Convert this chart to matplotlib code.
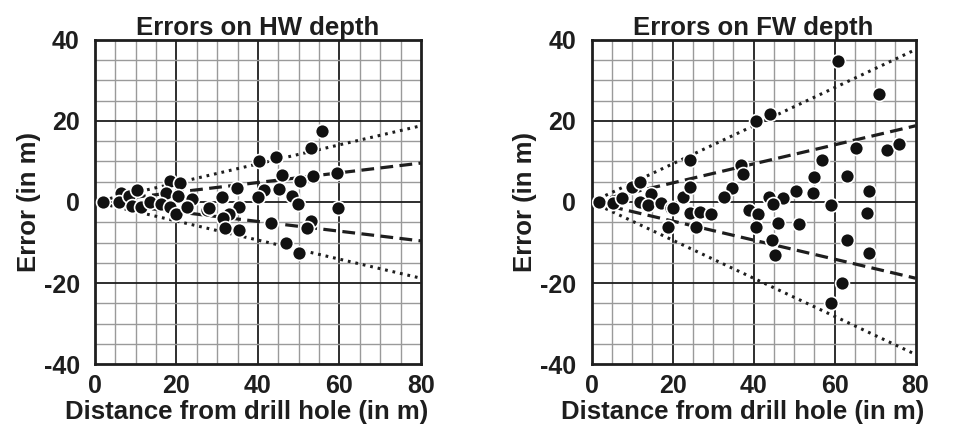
import numpy as np
import matplotlib
matplotlib.use("Agg")
import matplotlib.pyplot as plt

plt.rcParams['font.family'] = ['Liberation Sans', 'DejaVu Sans']
plt.rcParams['font.weight'] = 'bold'
plt.rcParams['axes.unicode_minus'] = False

# HW depth errors (distance, error)
hw_x = [1.9, 6.3, 6.0, 8.4, 10.2, 9.0, 11.4, 13.5, 18.4, 17.4, 20.8, 20.4, 23.7,
        16.3, 18.4, 20.0, 22.5, 27.4, 55.8, 52.9, 44.4, 40.3, 45.8, 53.4, 59.4,
        50.4, 34.9, 41.4, 45.1, 31.2, 40.1, 48.4, 49.9, 28.0, 35.4, 59.6, 32.8,
        31.4, 53.1, 52.0, 43.3, 31.9, 35.4, 47.0, 50.0]
hw_y = [0.0, 2.1, 0.0, 1.5, 3.0, -0.9, -1.3, 0.0, 5.3, 2.1, 4.6, 1.5, 0.7,
        -0.5, -1.2, -3.0, -1.3, -2.0, 17.5, 13.4, 11.0, 10.0, 6.7, 6.4, 7.1,
        5.3, 3.5, 3.0, 3.2, 1.2, 1.2, 1.5, -0.5, -1.4, -1.2, -1.4, -3.0,
        -4.0, -4.6, -6.3, -5.3, -6.5, -6.9, -10.0, -12.5]

# FW depth errors (distance, error)
fw_x = [1.8, 5.4, 7.6, 10.0, 12.0, 14.7, 11.9, 13.9, 17.2, 19.7, 20.1, 22.5, 24.2,
        24.2, 18.8, 24.2, 25.8, 26.7, 29.5, 40.7, 44.1, 37.0, 37.4, 34.7, 32.8,
        43.7, 47.2, 50.4, 44.9, 38.8, 41.0, 40.7, 46.0, 51.2, 44.6, 45.4,
        60.8, 70.9, 65.4, 72.9, 75.8, 57.0, 54.8, 63.0, 54.6, 68.4, 59.2,
        68.0, 63.0, 68.6, 61.9, 59.2]
fw_y = [0.0, -0.2, 1.1, 3.6, 5.0, 2.0, 0.0, -0.7, -0.2, -1.6, -1.6, 1.3, 3.8,
        10.4, -6.2, -2.8, -6.2, -2.4, -3.0, 20.0, 21.7, 9.1, 6.9, 3.4, 1.3,
        1.3, 0.9, 2.8, -0.5, -2.0, -3.0, -6.1, -5.1, -5.5, -9.4, -13.1,
        34.9, 26.7, 13.3, 12.8, 14.2, 10.4, 6.1, 6.5, 2.3, 2.8, -0.7,
        -2.6, -9.4, -12.7, -20.1, -25.0]

# envelope slopes: dashed, dotted
hw_slopes = [0.12, 0.235]
fw_slopes = [0.235, 0.47]

titles = ["Errors on HW depth", "Errors on FW depth"]

fig = plt.figure(figsize=(9.73, 4.33), dpi=100)
ax1 = fig.add_axes([0.0976, 0.159, 0.335, 0.749])
ax2 = fig.add_axes([0.608, 0.159, 0.333, 0.749])

ink = '#1e1e1e'

for ax, xs, ys, slopes, title in [(ax1, hw_x, hw_y, hw_slopes, titles[0]),
                                   (ax2, fw_x, fw_y, fw_slopes, titles[1])]:
    # grid: minor every 5, major every 20
    for v in np.arange(5, 80, 5):
        c, lw = (ink, 1.3) if v % 20 == 0 else ('#9a9a9a', 1.0)
        ax.axvline(v, color=c, lw=lw, zorder=0)
    for v in np.arange(-35, 40, 5):
        c, lw = (ink, 1.3) if v % 20 == 0 else ('#9a9a9a', 1.0)
        ax.axhline(v, color=c, lw=lw, zorder=0)

    xl = np.array([0, 80])
    for sgn in (1, -1):
        ax.plot(xl, sgn * slopes[0] * xl, color=ink, lw=2.3, dashes=(4, 2), zorder=1)
        ax.plot(xl, sgn * slopes[1] * xl, color=ink, lw=2.2, dashes=(0.9, 1.6), zorder=1)

    ax.scatter(xs, ys, s=100, color='#111111', edgecolor='white', linewidth=1.2, zorder=3)

    ax.set_xlim(0, 80)
    ax.set_ylim(-40, 40)
    ax.set_xticks([0, 20, 40, 60, 80])
    ax.set_yticks([-40, -20, 0, 20, 40])
    ax.tick_params(length=0, labelsize=18, colors=ink)
    ax.tick_params(axis='x', pad=7)
    ax.tick_params(axis='y', pad=11)
    for lab in ax.get_xticklabels() + ax.get_yticklabels():
        lab.set_fontweight('bold')
    for sp in ax.spines.values():
        sp.set_linewidth(2)
        sp.set_color(ink)
    ax.set_title(title, fontsize=18.5, fontweight='bold', color=ink, pad=2)
    ax.set_xlabel("Distance from drill hole (in m)", fontsize=18.5, fontweight='bold',
                  color=ink)
    ax.xaxis.set_label_coords(0.465, -0.11)
    ax.set_ylabel("Error (in m)", fontsize=18.5, fontweight='bold', color=ink,
                  labelpad=2)

fig.savefig("out.png", dpi=100)
